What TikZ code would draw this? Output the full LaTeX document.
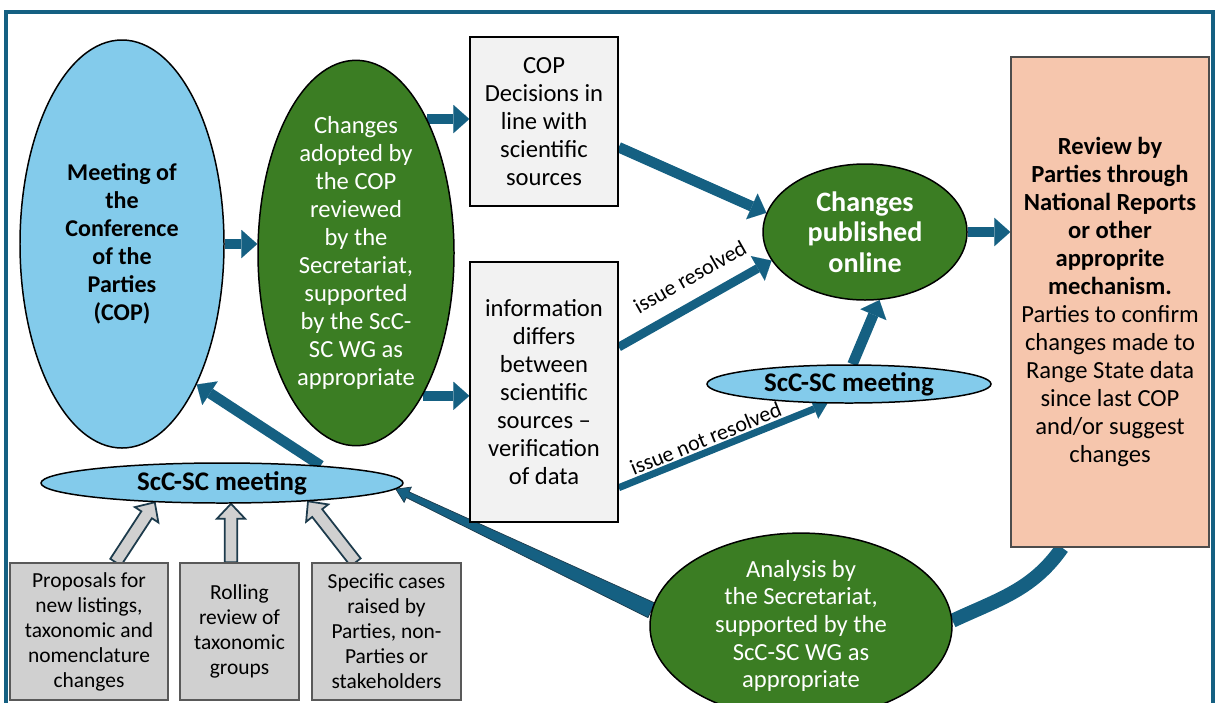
\documentclass[tikz,border=0pt]{standalone}
\usepackage{fontspec}
\setmainfont{Carlito}
\usetikzlibrary{shapes.geometric,arrows.meta,calc}
\pgfdeclarelayer{back}
\pgfsetlayers{back,main}
\definecolor{flowblue}{HTML}{156082}
\definecolor{skyblue}{HTML}{83CBEB}
\definecolor{leafgreen}{HTML}{3B7D23}
\definecolor{peach}{HTML}{F6C6AD}
\definecolor{paper}{HTML}{F2F2F2}
\definecolor{stone}{HTML}{D0D0D0}
\definecolor{slate}{HTML}{1D3B4C}
\begin{document}
\begin{tikzpicture}[x=0.2mm, y=0.2mm]
		\tikzstyle{blob}=[ellipse,draw,line width=0.85pt,inner sep=0pt,align=center]
		\tikzstyle{skyblob}=[blob,fill=skyblue]
		\tikzstyle{greenblob}=[blob,fill=leafgreen,text=white]
		\tikzstyle{card}=[rectangle,draw,line width=0.85pt,inner sep=0pt,align=center]
		\tikzstyle{flow}=[flowblue,line width=6pt,-{Triangle[length=9pt,width=16pt,line width=0.01pt]}]
		\tikzstyle{thinflow}=[flow,line width=4pt,-{Triangle[length=8pt,width=12pt,line width=0.01pt]}]
		\tikzstyle{band}=[flowblue,line width=8pt]
		\tikzstyle{tag}=[font=\fontsize{12.5}{14}\selectfont,sloped,inner sep=1pt,text=black]
		\tikzstyle{hollow}=[draw=slate,fill=stone,line width=1pt,line join=miter,
			to path={let \p1=(\tikztostart), \p2=(\tikztotarget),
				\n1={atan2(\y2-\y1,\x2-\x1)}, \n2={veclen(\x2-\x1,\y2-\y1)} in
				[shift={(\p1)},rotate=\n1] (0pt,-3.6pt) -- ({\n2-8.5pt},-3.6pt) -- ({\n2-8.5pt},-8pt)
				-- ({\n2*1pt},0pt) -- ({\n2-8.5pt},8pt) -- ({\n2-8.5pt},3.6pt) -- (0pt,3.6pt) -- cycle}]
		\tikzstyle{taper}=[draw=slate,fill=flowblue,line width=0.4pt,line join=miter,
			to path={let \p1=(\tikztostart), \p2=(\tikztotarget),
				\n1={atan2(\y2-\y1,\x2-\x1)}, \n2={veclen(\x2-\x1,\y2-\y1)} in
				[shift={(\p1)},rotate=\n1] (0pt,-4.6pt) -- ({\n2-7.5pt},-1.8pt) -- ({\n2-7.5pt},-4.8pt)
				-- ({\n2*1pt},0pt) -- ({\n2-7.5pt},4.8pt) -- ({\n2-7.5pt},1.8pt) -- (0pt,4.6pt) -- cycle}]
		\useasboundingbox (0,0) rectangle (1216,-702);
		\draw[flowblue,line width=2.4pt] (6,-12) rectangle (1213,-720);
		% top row
		\node[skyblob,minimum width=40.8mm,minimum height=81.6mm,font=\bfseries\fontsize{13.7}{15.9}\selectfont](cop)at(122,-244){Meeting of\\the\\Conference\\of the\\Parties\\(COP)};
		\node[greenblob,minimum width=39.2mm,minimum height=74mm,font=\fontsize{14}{15.9}\selectfont](adopt)at(356,-253){Changes\\adopted by\\the COP\\reviewed\\by the\\Secretariat,\\supported\\by the ScC-\\SC WG as\\appropriate};
		\node[card,fill=paper,minimum width=29.6mm,minimum height=33.8mm,font=\fontsize{14}{15.9}\selectfont](decisions)at(544,-121.5){COP\\Decisions in\\line with\\scientific\\sources};
		\node[card,fill=paper,minimum width=29.6mm,minimum height=52mm,font=\fontsize{14}{15.9}\selectfont](info)at(544,-392){information\\differs\\between\\scientific\\sources –\\verification\\of data};
		\node[greenblob,minimum width=40.8mm,minimum height=27.2mm,font=\bfseries\fontsize{16}{17.3}\selectfont](published)at(865,-232){Changes\\published\\online};
		\node[skyblob,minimum width=56.8mm,minimum height=7.6mm,font=\bfseries\fontsize{15.3}{17}\selectfont](meetR)at(849,-384){ScC-SC meeting};
		\node[card,draw=black!70,fill=peach,minimum width=39.6mm,minimum height=98mm,font=\fontsize{14}{15.9}\selectfont](review)at(1110,-302){\textbf{Review by}\\\textbf{Parties through}\\\textbf{National Reports}\\\textbf{or other}\\\textbf{approprite}\\\textbf{mechanism.}\\Parties to confirm\\changes made to\\Range State data\\since last COP\\and/or suggest\\changes};
		% bottom row
		\node[skyblob,minimum width=72.4mm,minimum height=8mm,font=\bfseries\fontsize{15.3}{17}\selectfont](meetL)at(222,-483){ScC-SC meeting};
		\node[card,draw=black!65,fill=stone,minimum width=31.6mm,minimum height=27.4mm,font=\fontsize{12.2}{14.2}\selectfont](proposals)at(89,-631.5){Proposals for\\new listings,\\taxonomic and\\nomenclature\\changes};
		\node[card,draw=black!65,fill=stone,minimum width=23.8mm,minimum height=27.4mm,font=\fontsize{12.2}{14.2}\selectfont](rolling)at(239.5,-631.5){Rolling\\review of\\taxonomic\\groups};
		\node[card,draw=black!65,fill=stone,minimum width=29.8mm,minimum height=27.4mm,font=\fontsize{12.2}{14.2}\selectfont](specific)at(386.5,-631.5){Specific cases\\raised by\\Parties, non-\\Parties or\\stakeholders};
		\node[greenblob,minimum width=60.4mm,minimum height=29.6mm,font=\fontsize{14}{15.7}\selectfont](analysis)at(801,-626){Analysis by\\the Secretariat,\\supported by the\\ScC-SC WG as\\appropriate};
		% connectors, behind the shapes
		\begin{pgfonlayer}{back}
		\path[flow] (cop.east) edge (cop.east -| adopt.west)
		(adopt.62) edge (adopt.62 -| decisions.west)
		(adopt.-65) edge (adopt.-65 -| info.west)
		(decisions.-19) edge (published.169)
		(published.east) edge (published.east -| review.west)
		(meetR.80) edge (published.-78)
		(meetL.10) edge (cop.-62);
		\draw[flow,line width=5pt] (info.31) -- node[tag,above=7pt,pos=0.55]{issue resolved} (published.197);
		\draw[thinflow] (info.-52) -- node[tag,above=0pt,pos=0.44]{issue not resolved} (meetR.222);
		\draw[taper] (analysis.174) to (meetL.-2.5);
		\draw[band] ($(review.south west)!0.26!(review.south east)$) to[out=-125,in=25] (analysis.2);
		\draw[hollow] (proposals.69) to (meetL.196);
		\draw[hollow] (rolling.97) to (rolling.97 |- meetL.south);
		\draw[hollow] (specific.114) to (meetL.-12);
		\end{pgfonlayer}
\end{tikzpicture}
\end{document}
